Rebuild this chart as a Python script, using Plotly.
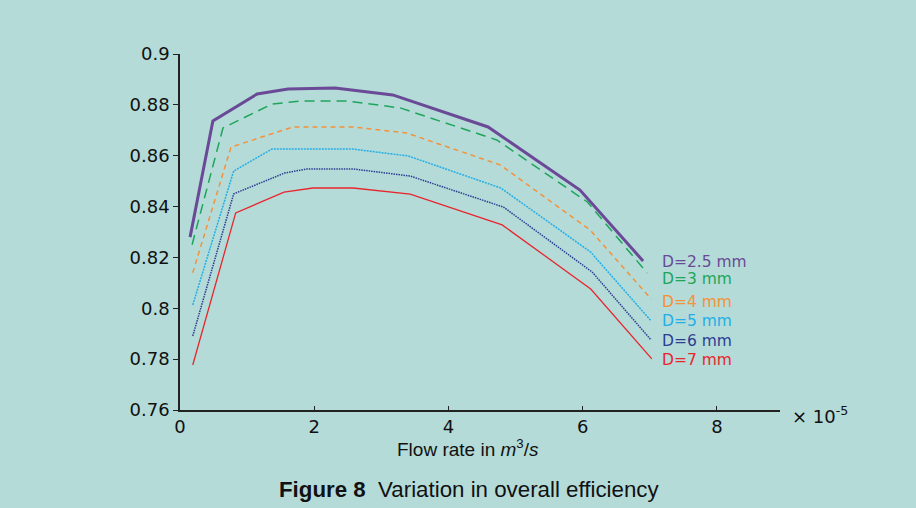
import plotly.graph_objects as go

# Flow rate (x 1e-5 m^3/s) and total efficiency per nozzle diameter
x_d25 = [0.15, 0.49, 1.15, 1.61, 2.31, 3.17, 4.59, 5.96, 6.90]
y_d25 = [0.828, 0.8737, 0.8843, 0.8862, 0.8866, 0.8839, 0.8713, 0.8465, 0.8186]

x_d3 = [0.18, 0.64, 1.37, 1.79, 2.49, 3.28, 4.72, 6.07, 6.96]
y_d3 = [0.825, 0.8709, 0.8803, 0.8815, 0.8815, 0.8788, 0.8662, 0.8418, 0.8139]

x_d4 = [0.19, 0.76, 1.68, 2.58, 3.38, 4.77, 6.11, 7.02]
y_d4 = [0.814, 0.8634, 0.8713, 0.8713, 0.8689, 0.8564, 0.8308, 0.8037]

x_d5 = [0.19, 0.80, 1.37, 2.58, 3.40, 4.78, 6.12, 7.02]
y_d5 = [0.8013, 0.854, 0.8626, 0.8626, 0.8599, 0.8473, 0.8221, 0.795]

x_d6 = [0.19, 0.80, 1.56, 1.89, 2.58, 3.43, 4.82, 6.14, 7.02]
y_d6 = [0.7891, 0.845, 0.8532, 0.8548, 0.8548, 0.852, 0.8398, 0.8143, 0.7875]

x_d7 = [0.19, 0.83, 1.55, 1.98, 2.58, 3.43, 4.80, 6.12, 7.03]
y_d7 = [0.7777, 0.8375, 0.8457, 0.8473, 0.8473, 0.8449, 0.8328, 0.8076, 0.7801]

labels = ["D=2.5 mm", "D=3 mm", "D=4 mm", "D=5 mm", "D=6 mm", "D=7 mm"]
label_y = [0.8183, 0.8115, 0.8025, 0.795, 0.7871, 0.7797]

x_ticks = [0, 2, 4, 6, 8]
y_ticks = [0.76, 0.78, 0.8, 0.82, 0.84, 0.86, 0.88, 0.9]
y_tick_text = ["0.76", "0.78", "0.8", "0.82", "0.84", "0.86", "0.88", "0.9"]

series = [
    (x_d25, y_d25, "#6a4a96", 3, "solid"),
    (x_d3, y_d3, "#1fa55a", 1.5, "10px,6px"),
    (x_d4, y_d4, "#f3923a", 1.5, "5px,4px"),
    (x_d5, y_d5, "#23aee6", 1.5, "2px,1px"),
    (x_d6, y_d6, "#2e3d92", 1.5, "1.5px,1px"),
    (x_d7, y_d7, "#e8262d", 1.3, "solid"),
]

FONT = "DejaVu Sans"
CAP_FONT = "Liberation Sans"
BG = "#b4dbd8"

fig = go.Figure()
for (xs, ys, col, w, dash), name in zip(series, labels):
    fig.add_trace(go.Scatter(x=xs, y=ys, mode="lines", name=name,
                             line=dict(color=col, width=w, dash=dash)))

for (xs, ys, col, w, dash), name, ly in zip(series, labels, label_y):
    fig.add_annotation(x=7.15, y=ly, xref="x", yref="y", text=name,
                       showarrow=False, xanchor="left", yanchor="middle",
                       font=dict(family=FONT, size=15.5, color=col))

fig.add_annotation(x=-0.8, y=0.9, xref="x", yref="y", yshift=26,
                   text="Total efficiency", showarrow=False,
                   xanchor="left", yanchor="middle",
                   font=dict(family=FONT, size=16.5, color="#111"))
fig.add_annotation(x=8.94, y=0.76, xref="x", yref="y", xshift=10, yshift=-5,
                   text="× 10<sup>-5</sup>", showarrow=False,
                   xanchor="left", yanchor="middle",
                   font=dict(family=FONT, size=18, color="#111"))
fig.add_annotation(x=4.29, y=0.76, xref="x", yref="y", yshift=-38,
                   text="Flow rate in <i>m</i><sup>3</sup>/<i>s</i>", showarrow=False,
                   xanchor="center", yanchor="middle",
                   font=dict(family=CAP_FONT, size=19, color="#111"))
fig.add_annotation(x=0.482, y=0, xref="paper", yref="paper", yshift=-79,
                   text="<b>Figure 8</b>  Variation in overall efficiency",
                   showarrow=False, xanchor="center", yanchor="middle",
                   font=dict(family=CAP_FONT, size=22.3, color="#111"))

fig.update_layout(
    width=916, height=508,
    margin=dict(l=180, r=136, t=54, b=98),
    paper_bgcolor=BG, plot_bgcolor=BG,
    showlegend=False,
    font=dict(family=FONT, size=18, color="#111"),
    xaxis=dict(range=[0, 8.94], tickvals=x_ticks, ticks="inside", ticklen=4,
               tickcolor="#222", showline=True, linecolor="#222", linewidth=1.5,
               showgrid=False, zeroline=False, tickfont=dict(size=18)),
    yaxis=dict(range=[0.76, 0.9], tickvals=y_ticks, ticktext=y_tick_text,
               ticks="outside", ticklen=5, tickcolor="#222", showline=True,
               linecolor="#222", linewidth=1.5, showgrid=False, zeroline=False,
               tickfont=dict(size=18)),
)

fig.write_html("out.html", config={"displayModeBar": False},
               post_script="document.body.style.margin='0';")
